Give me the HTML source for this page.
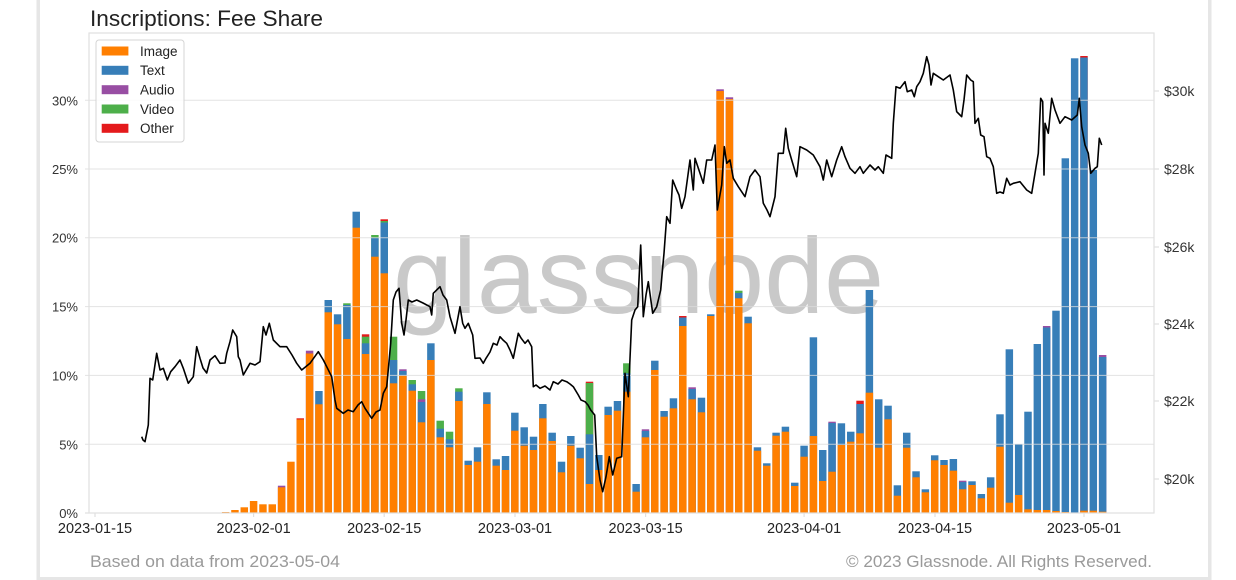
<!DOCTYPE html>
<html><head><meta charset="utf-8"><style>
html,body{margin:0;padding:0;background:#fff;}
body{width:1236px;height:580px;overflow:hidden;}
svg{display:block;font-family:"Liberation Sans",Arial,sans-serif;}
.o{fill:#ff7f00}.b{fill:#377eb8}.p{fill:#984ea3}.g{fill:#4daf4a}.r{fill:#e41a1c}
.yl{font-size:13px;fill:#333;text-anchor:end}
.yr{font-size:14px;fill:#333}
.xl{font-size:14.5px;fill:#222;text-anchor:middle}
.lg{font-size:13.5px;fill:#222}
</style></head><body>
<svg width="1236" height="580" viewBox="0 0 1236 580" xmlns="http://www.w3.org/2000/svg">
<rect x="0" y="0" width="1236" height="580" fill="#fff"/>
<!-- outer frame -->
<rect x="36.5" y="-5" width="3.5" height="586" fill="#e6e6e6"/>
<rect x="1208" y="-5" width="3.5" height="586" fill="#e6e6e6"/>
<rect x="36.5" y="577" width="1175" height="3" fill="#e6e6e6"/>

<!-- title -->
<text x="90" y="26" font-size="22.5" fill="#222" textLength="233" lengthAdjust="spacingAndGlyphs">Inscriptions: Fee Share</text>

<!-- watermark -->
<text x="393" y="313" font-size="108" fill="#c9c9c9" textLength="491" lengthAdjust="spacingAndGlyphs">glassnode</text>

<!-- bars -->
<g id="bars">
<rect class="o" x="221.89" y="512" width="7.46" height="1"/>
<rect class="o" x="231.22" y="510" width="7.46" height="3"/>
<rect class="o" x="240.55" y="507.3" width="7.46" height="5.7"/>
<rect class="o" x="249.88" y="501" width="7.46" height="12"/>
<rect class="o" x="259.21" y="504.3" width="7.46" height="8.7"/>
<rect class="o" x="268.54" y="504.3" width="7.46" height="8.7"/>
<rect class="p" x="277.87" y="485.7" width="7.46" height="27.3"/><rect class="o" x="277.87" y="487.3" width="7.46" height="25.7"/>
<rect class="o" x="287.2" y="461.7" width="7.46" height="51.3"/>
<rect class="r" x="296.53" y="418.3" width="7.46" height="94.7"/><rect class="o" x="296.53" y="419.5" width="7.46" height="93.5"/>
<rect class="p" x="305.86" y="350.7" width="7.46" height="162.3"/><rect class="o" x="305.86" y="353.5" width="7.46" height="159.5"/>
<rect class="b" x="315.19" y="391" width="7.46" height="122"/><rect class="o" x="315.19" y="404.3" width="7.46" height="108.7"/>
<rect class="b" x="324.52" y="300" width="7.46" height="213"/><rect class="o" x="324.52" y="312.3" width="7.46" height="200.7"/>
<rect class="b" x="333.85" y="314.3" width="7.46" height="198.7"/><rect class="o" x="333.85" y="324.3" width="7.46" height="188.7"/>
<rect class="g" x="343.18" y="303.3" width="7.46" height="209.7"/><rect class="b" x="343.18" y="305" width="7.46" height="208"/><rect class="o" x="343.18" y="339" width="7.46" height="174"/>
<rect class="b" x="352.51" y="211.7" width="7.46" height="301.3"/><rect class="o" x="352.51" y="227.7" width="7.46" height="285.3"/>
<rect class="r" x="361.84" y="334.3" width="7.46" height="178.7"/><rect class="g" x="361.84" y="336.7" width="7.46" height="176.3"/><rect class="b" x="361.84" y="343.3" width="7.46" height="169.7"/><rect class="o" x="361.84" y="354" width="7.46" height="159"/>
<rect class="g" x="371.17" y="235" width="7.46" height="278"/><rect class="b" x="371.17" y="237.7" width="7.46" height="275.3"/><rect class="o" x="371.17" y="256.7" width="7.46" height="256.3"/>
<rect class="r" x="380.5" y="219.3" width="7.46" height="293.7"/><rect class="g" x="380.5" y="221" width="7.46" height="292"/><rect class="b" x="380.5" y="222.5" width="7.46" height="290.5"/><rect class="o" x="380.5" y="273.3" width="7.46" height="239.7"/>
<rect class="g" x="389.83" y="336.7" width="7.46" height="176.3"/><rect class="b" x="389.83" y="360" width="7.46" height="153"/><rect class="o" x="389.83" y="383.3" width="7.46" height="129.7"/>
<rect class="p" x="399.16" y="369.3" width="7.46" height="143.7"/><rect class="b" x="399.16" y="371" width="7.46" height="142"/><rect class="o" x="399.16" y="375.7" width="7.46" height="137.3"/>
<rect class="g" x="408.49" y="380" width="7.46" height="133"/><rect class="b" x="408.49" y="384.3" width="7.46" height="128.7"/><rect class="o" x="408.49" y="390.7" width="7.46" height="122.3"/>
<rect class="g" x="417.82" y="391" width="7.46" height="122"/><rect class="p" x="417.82" y="399.3" width="7.46" height="113.7"/><rect class="b" x="417.82" y="402" width="7.46" height="111"/><rect class="o" x="417.82" y="422.3" width="7.46" height="90.7"/>
<rect class="b" x="427.15" y="343.3" width="7.46" height="169.7"/><rect class="o" x="427.15" y="360" width="7.46" height="153"/>
<rect class="g" x="436.48" y="420.7" width="7.46" height="92.3"/><rect class="b" x="436.48" y="428.7" width="7.46" height="84.3"/><rect class="o" x="436.48" y="437.3" width="7.46" height="75.7"/>
<rect class="g" x="445.81" y="431.7" width="7.46" height="81.3"/><rect class="b" x="445.81" y="439.3" width="7.46" height="73.7"/><rect class="o" x="445.81" y="447.3" width="7.46" height="65.7"/>
<rect class="g" x="455.14" y="388.3" width="7.46" height="124.7"/><rect class="b" x="455.14" y="391.7" width="7.46" height="121.3"/><rect class="o" x="455.14" y="401" width="7.46" height="112"/>
<rect class="b" x="464.47" y="460.7" width="7.46" height="52.3"/><rect class="o" x="464.47" y="465" width="7.46" height="48"/>
<rect class="b" x="473.8" y="447.3" width="7.46" height="65.7"/><rect class="o" x="473.8" y="461.7" width="7.46" height="51.3"/>
<rect class="b" x="483.13" y="392.3" width="7.46" height="120.7"/><rect class="o" x="483.13" y="404" width="7.46" height="109"/>
<rect class="b" x="492.46" y="459.3" width="7.46" height="53.7"/><rect class="o" x="492.46" y="465.7" width="7.46" height="47.3"/>
<rect class="b" x="501.79" y="456" width="7.46" height="57"/><rect class="o" x="501.79" y="470" width="7.46" height="43"/>
<rect class="b" x="511.12" y="412.7" width="7.46" height="100.3"/><rect class="o" x="511.12" y="430.7" width="7.46" height="82.3"/>
<rect class="b" x="520.45" y="427.3" width="7.46" height="85.7"/><rect class="o" x="520.45" y="445.7" width="7.46" height="67.3"/>
<rect class="b" x="529.78" y="436.7" width="7.46" height="76.3"/><rect class="o" x="529.78" y="450" width="7.46" height="63"/>
<rect class="b" x="539.11" y="404" width="7.46" height="109"/><rect class="o" x="539.11" y="418.3" width="7.46" height="94.7"/>
<rect class="b" x="548.44" y="432.7" width="7.46" height="80.3"/><rect class="o" x="548.44" y="441" width="7.46" height="72"/>
<rect class="b" x="557.77" y="461.7" width="7.46" height="51.3"/><rect class="o" x="557.77" y="472.3" width="7.46" height="40.7"/>
<rect class="b" x="567.1" y="436" width="7.46" height="77"/><rect class="o" x="567.1" y="445.7" width="7.46" height="67.3"/>
<rect class="b" x="576.43" y="447.7" width="7.46" height="65.3"/><rect class="o" x="576.43" y="458.3" width="7.46" height="54.7"/>
<rect class="r" x="585.76" y="381.7" width="7.46" height="131.3"/><rect class="g" x="585.76" y="383" width="7.46" height="130"/><rect class="b" x="585.76" y="434.3" width="7.46" height="78.7"/><rect class="o" x="585.76" y="484" width="7.46" height="29"/>
<rect class="b" x="595.09" y="455" width="7.46" height="58"/><rect class="o" x="595.09" y="470" width="7.46" height="43"/>
<rect class="b" x="604.42" y="406.7" width="7.46" height="106.3"/><rect class="o" x="604.42" y="415" width="7.46" height="98"/>
<rect class="b" x="613.75" y="401" width="7.46" height="112"/><rect class="o" x="613.75" y="410.7" width="7.46" height="102.3"/>
<rect class="g" x="623.08" y="363.3" width="7.46" height="149.7"/><rect class="b" x="623.08" y="373.3" width="7.46" height="139.7"/><rect class="o" x="623.08" y="391.7" width="7.46" height="121.3"/>
<rect class="b" x="632.41" y="484" width="7.46" height="29"/><rect class="o" x="632.41" y="491.7" width="7.46" height="21.3"/>
<rect class="p" x="641.74" y="429.3" width="7.46" height="83.7"/><rect class="b" x="641.74" y="431" width="7.46" height="82"/><rect class="o" x="641.74" y="437.3" width="7.46" height="75.7"/>
<rect class="b" x="651.07" y="360.7" width="7.46" height="152.3"/><rect class="o" x="651.07" y="370" width="7.46" height="143"/>
<rect class="b" x="660.4" y="411" width="7.46" height="102"/><rect class="o" x="660.4" y="416.7" width="7.46" height="96.3"/>
<rect class="b" x="669.73" y="398.3" width="7.46" height="114.7"/><rect class="o" x="669.73" y="408.3" width="7.46" height="104.7"/>
<rect class="r" x="679.06" y="316" width="7.46" height="197"/><rect class="b" x="679.06" y="317.5" width="7.46" height="195.5"/><rect class="o" x="679.06" y="326" width="7.46" height="187"/>
<rect class="p" x="688.39" y="387.3" width="7.46" height="125.7"/><rect class="b" x="688.39" y="389" width="7.46" height="124"/><rect class="o" x="688.39" y="399.3" width="7.46" height="113.7"/>
<rect class="b" x="697.72" y="397.7" width="7.46" height="115.3"/><rect class="o" x="697.72" y="412.3" width="7.46" height="100.7"/>
<rect class="b" x="707.05" y="314.3" width="7.46" height="198.7"/><rect class="o" x="707.05" y="316" width="7.46" height="197"/>
<rect class="p" x="716.38" y="89.3" width="7.46" height="423.7"/><rect class="o" x="716.38" y="91" width="7.46" height="422"/>
<rect class="p" x="725.71" y="97.3" width="7.46" height="415.7"/><rect class="o" x="725.71" y="99" width="7.46" height="414"/>
<rect class="g" x="735.04" y="290.7" width="7.46" height="222.3"/><rect class="b" x="735.04" y="293" width="7.46" height="220"/><rect class="o" x="735.04" y="298.3" width="7.46" height="214.7"/>
<rect class="b" x="744.37" y="316.7" width="7.46" height="196.3"/><rect class="o" x="744.37" y="323.3" width="7.46" height="189.7"/>
<rect class="b" x="753.7" y="447.3" width="7.46" height="65.7"/><rect class="o" x="753.7" y="450.7" width="7.46" height="62.3"/>
<rect class="b" x="763.03" y="463.3" width="7.46" height="49.7"/><rect class="o" x="763.03" y="465.7" width="7.46" height="47.3"/>
<rect class="b" x="772.36" y="432.7" width="7.46" height="80.3"/><rect class="o" x="772.36" y="435.7" width="7.46" height="77.3"/>
<rect class="b" x="781.69" y="426.7" width="7.46" height="86.3"/><rect class="o" x="781.69" y="431.7" width="7.46" height="81.3"/>
<rect class="b" x="791.02" y="482.7" width="7.46" height="30.3"/><rect class="o" x="791.02" y="486" width="7.46" height="27"/>
<rect class="b" x="800.35" y="445.7" width="7.46" height="67.3"/><rect class="o" x="800.35" y="456.7" width="7.46" height="56.3"/>
<rect class="b" x="809.68" y="337.3" width="7.46" height="175.7"/><rect class="o" x="809.68" y="436" width="7.46" height="77"/>
<rect class="b" x="819.01" y="450" width="7.46" height="63"/><rect class="o" x="819.01" y="481" width="7.46" height="32"/>
<rect class="p" x="828.34" y="421.7" width="7.46" height="91.3"/><rect class="b" x="828.34" y="423" width="7.46" height="90"/><rect class="o" x="828.34" y="471.7" width="7.46" height="41.3"/>
<rect class="b" x="837.67" y="423.3" width="7.46" height="89.7"/><rect class="o" x="837.67" y="445" width="7.46" height="68"/>
<rect class="b" x="847" y="431.7" width="7.46" height="81.3"/><rect class="o" x="847" y="441.7" width="7.46" height="71.3"/>
<rect class="r" x="856.33" y="400.7" width="7.46" height="112.3"/><rect class="b" x="856.33" y="404" width="7.46" height="109"/><rect class="o" x="856.33" y="433.3" width="7.46" height="79.7"/>
<rect class="b" x="865.66" y="290" width="7.46" height="223"/><rect class="o" x="865.66" y="392.7" width="7.46" height="120.3"/>
<rect class="b" x="874.99" y="399.3" width="7.46" height="113.7"/><rect class="o" x="874.99" y="447.7" width="7.46" height="65.3"/>
<rect class="b" x="884.32" y="405.7" width="7.46" height="107.3"/><rect class="o" x="884.32" y="419.3" width="7.46" height="93.7"/>
<rect class="b" x="893.65" y="485.3" width="7.46" height="27.7"/><rect class="o" x="893.65" y="495.7" width="7.46" height="17.3"/>
<rect class="b" x="902.98" y="432.7" width="7.46" height="80.3"/><rect class="o" x="902.98" y="447.7" width="7.46" height="65.3"/>
<rect class="b" x="912.31" y="471.3" width="7.46" height="41.7"/><rect class="o" x="912.31" y="477.3" width="7.46" height="35.7"/>
<rect class="b" x="921.64" y="489.3" width="7.46" height="23.7"/><rect class="o" x="921.64" y="492.3" width="7.46" height="20.7"/>
<rect class="b" x="930.97" y="455.3" width="7.46" height="57.7"/><rect class="o" x="930.97" y="460.3" width="7.46" height="52.7"/>
<rect class="b" x="940.3" y="460" width="7.46" height="53"/><rect class="o" x="940.3" y="465" width="7.46" height="48"/>
<rect class="b" x="949.63" y="459" width="7.46" height="54"/><rect class="o" x="949.63" y="470.7" width="7.46" height="42.3"/>
<rect class="p" x="958.96" y="480.7" width="7.46" height="32.3"/><rect class="b" x="958.96" y="482" width="7.46" height="31"/><rect class="o" x="958.96" y="489.3" width="7.46" height="23.7"/>
<rect class="b" x="968.29" y="481.3" width="7.46" height="31.7"/><rect class="o" x="968.29" y="485" width="7.46" height="28"/>
<rect class="b" x="977.62" y="494" width="7.46" height="19"/><rect class="o" x="977.62" y="498.3" width="7.46" height="14.7"/>
<rect class="b" x="986.95" y="477.3" width="7.46" height="35.7"/><rect class="o" x="986.95" y="487.7" width="7.46" height="25.3"/>
<rect class="b" x="996.28" y="414.3" width="7.46" height="98.7"/><rect class="o" x="996.28" y="446.7" width="7.46" height="66.3"/>
<rect class="b" x="1005.61" y="349.3" width="7.46" height="163.7"/><rect class="o" x="1005.61" y="502.7" width="7.46" height="10.3"/>
<rect class="b" x="1014.94" y="444" width="7.46" height="69"/><rect class="o" x="1014.94" y="495" width="7.46" height="18"/>
<rect class="b" x="1024.27" y="411.7" width="7.46" height="101.3"/><rect class="o" x="1024.27" y="509.3" width="7.46" height="3.7"/>
<rect class="b" x="1033.6" y="344" width="7.46" height="169"/><rect class="o" x="1033.6" y="510" width="7.46" height="3"/>
<rect class="p" x="1042.93" y="326" width="7.46" height="187"/><rect class="b" x="1042.93" y="327.5" width="7.46" height="185.5"/><rect class="o" x="1042.93" y="510" width="7.46" height="3"/>
<rect class="b" x="1052.26" y="310.7" width="7.46" height="202.3"/><rect class="o" x="1052.26" y="511" width="7.46" height="2"/>
<rect class="b" x="1061.59" y="158.3" width="7.46" height="354.7"/><rect class="o" x="1061.59" y="512" width="7.46" height="1"/>
<rect class="b" x="1070.92" y="58.3" width="7.46" height="454.7"/><rect class="o" x="1070.92" y="512.5" width="7.46" height="0.5"/>
<rect class="r" x="1080.25" y="56" width="7.46" height="457"/><rect class="b" x="1080.25" y="57.5" width="7.46" height="455.5"/><rect class="o" x="1080.25" y="510.7" width="7.46" height="2.3"/>
<rect class="b" x="1089.58" y="170" width="7.46" height="343"/><rect class="o" x="1089.58" y="510.7" width="7.46" height="2.3"/>
<rect class="p" x="1098.91" y="355" width="7.46" height="158"/><rect class="b" x="1098.91" y="357" width="7.46" height="156"/><rect class="o" x="1098.91" y="511.7" width="7.46" height="1.3"/>
</g>

<!-- gridlines (over bars) -->
<g stroke="#dcdcdc" stroke-opacity="0.8" stroke-width="1">
<line x1="85" y1="444.2" x2="1154" y2="444.2"/>
<line x1="85" y1="375.4" x2="1154" y2="375.4"/>
<line x1="85" y1="306.6" x2="1154" y2="306.6"/>
<line x1="85" y1="237.8" x2="1154" y2="237.8"/>
<line x1="85" y1="169" x2="1154" y2="169"/>
<line x1="85" y1="100.2" x2="1154" y2="100.2"/>
</g>
<!-- spines -->
<g stroke="#e0e0e0" stroke-width="1.2" fill="none">
<rect x="89" y="33" width="1065" height="480"/>
<line x1="85" y1="513" x2="89" y2="513"/>
<line x1="1154" y1="91" x2="1159" y2="91"/>
<line x1="1154" y1="169" x2="1159" y2="169"/>
<line x1="1154" y1="247" x2="1159" y2="247"/>
<line x1="1154" y1="324" x2="1159" y2="324"/>
<line x1="1154" y1="401" x2="1159" y2="401"/>
<line x1="1154" y1="479" x2="1159" y2="479"/>
<line x1="95" y1="513" x2="95" y2="517"/>
<line x1="253.6" y1="513" x2="253.6" y2="517"/>
<line x1="384.2" y1="513" x2="384.2" y2="517"/>
<line x1="515" y1="513" x2="515" y2="517"/>
<line x1="645.6" y1="513" x2="645.6" y2="517"/>
<line x1="804.1" y1="513" x2="804.1" y2="517"/>
<line x1="935" y1="513" x2="935" y2="517"/>
<line x1="1084" y1="513" x2="1084" y2="517"/>
</g>

<!-- price line -->
<polyline fill="none" stroke="#000" stroke-width="1.6" stroke-linejoin="round" points="141.7,436.7 143,440 145,441.7 148.3,425 150,378.3 152.7,380 156.7,353.3 160,370 163.3,368.3 167.3,380 170.7,371.7 175,366.7 180,360 183.3,368.3 188.3,383.3 193.3,376.7 196.7,346.7 200,358.3 203,368 206.7,373 210,360 215,355.7 220,363.3 225,363 226.7,353.3 230,341.7 232.7,330 236.7,336.7 238.3,356.7 240,360 243.3,375 250,363.3 255,365 260,361.7 263.3,326.7 266,335 269.3,323.3 273.3,340 280,346.7 286.7,346.7 292,355 296.7,363.3 301.7,370 310,363.3 318.3,351.7 323.3,360 326.7,366.7 331.7,376.7 335,400 336.7,408.3 343.3,413.3 348,410 353.3,411.7 358,405 361.7,401.7 365,408.3 371.7,418.3 376,412 380,410 383.3,393.3 386.7,386.7 390.7,343.3 393.3,300 396,292 399,288.3 401.7,323.3 404,335 406,320 408.3,300 412,302 416.7,300 423,303 430,306.7 431.7,315 433.3,293.3 440,286.7 443,295 446.7,300 450,316.7 455,333.3 460,306.7 462.7,323.3 465,328.3 468.3,323.3 472.7,335 475,358.3 480,358 483.3,363.3 486,358.3 490,352 493.3,343.3 497,345 500,336.7 503,340 506.7,343.3 510,350 513.3,358.3 518.3,333.3 521,338 525,343.3 528,340 531.7,346.7 533.3,386.7 536,385 540,388.3 545,386 550,390 553.3,381.7 558,384 562,380 566.7,381.7 570,384 573.3,386.7 578.3,395 581,400 585,401.7 588,405 590.7,410 594.7,415 596.7,456.7 600,480 602.7,491.7 606,476.7 609.3,456.7 612.7,475 616.7,458.3 621.7,456.7 625,373.3 628.3,396.7 631.7,320 635,310 637.7,306.7 640.7,245 643.3,316.7 646,295 648.3,281.7 652.7,313.3 656.7,306.7 660.7,290 662,275 664,253.3 666.7,216.7 670,223.3 672.7,180 676.7,190 679,195 681.7,208.3 685,196.7 690,160 693.3,190 695,158.3 700,173.3 703.3,183.3 706.7,160 711.7,160 715,145 717.3,210 721.7,185 724.3,146.7 726.7,163.3 730,160 733.3,178.3 738.3,186.7 745,196.7 750,176.7 755,170 760,176.7 763.3,203.3 767,210 770,216.7 775,196.7 778.3,153.3 783.3,153.3 785.7,128.3 788.3,148.3 791.7,160 796.7,176.7 800,146.7 806.7,150 813.3,155 820,166.7 823.3,180 826.7,160 831.7,176.7 836.7,160 841.7,146.7 845,156.7 850,168.3 855,173.3 860,166.7 863.3,173.3 870,165 875,170 878.3,166.7 883.3,173.3 886,155 891.7,158.3 893.3,123.3 896,86.7 900,88.3 905,81.7 907.3,91.7 911.7,90 914.3,96.7 916.7,86.7 920,81.7 923.3,73.3 926.7,56.7 929,65 931,85 933.3,73.3 938.3,76.7 943.3,80 950,75 953.3,90 956.7,111.7 960,115 961.7,116.7 964,100 966.7,75 970.7,80 973.3,81.7 975,123.3 978.3,118.3 980.7,135 984,136.7 986.7,156.7 990,158.3 993.3,166.7 996.7,193.3 1000,192 1003.3,193.3 1006.7,178.3 1010,185 1013.3,183.3 1020,181.7 1026.7,190 1031.7,193.3 1035,173.3 1038.3,153.3 1040.7,98.3 1042.7,101.7 1044,175 1045,123.3 1048.3,133.3 1051.7,98.3 1055,110 1060,123.3 1065,116.7 1071.7,120 1077.3,115 1079.3,98.3 1081.7,126.7 1085,145 1088.3,153.3 1090.7,173.3 1095,168.3 1097.3,166.7 1099.3,138.3 1101.7,145"/>

<!-- left axis labels -->
<text class="yl" x="78" y="518">0%</text>
<text class="yl" x="78" y="449.5">5%</text>
<text class="yl" x="78" y="380.5">10%</text>
<text class="yl" x="78" y="311.5">15%</text>
<text class="yl" x="78" y="242.5">20%</text>
<text class="yl" x="78" y="174">25%</text>
<text class="yl" x="78" y="105.5">30%</text>

<!-- right axis labels -->
<text class="yr" x="1164" y="96">$30k</text>
<text class="yr" x="1164" y="174">$28k</text>
<text class="yr" x="1164" y="252">$26k</text>
<text class="yr" x="1164" y="329">$24k</text>
<text class="yr" x="1164" y="406">$22k</text>
<text class="yr" x="1164" y="484">$20k</text>

<!-- x labels -->
<text class="xl" x="95" y="533">2023-01-15</text>
<text class="xl" x="253.6" y="533">2023-02-01</text>
<text class="xl" x="384.2" y="533">2023-02-15</text>
<text class="xl" x="515" y="533">2023-03-01</text>
<text class="xl" x="645.6" y="533">2023-03-15</text>
<text class="xl" x="804.1" y="533">2023-04-01</text>
<text class="xl" x="935" y="533">2023-04-15</text>
<text class="xl" x="1084" y="533">2023-05-01</text>

<!-- legend -->
<rect x="96" y="40" width="88" height="102" rx="3" fill="#fff" fill-opacity="0.85" stroke="#d4d4d4" stroke-width="1"/>
<rect class="o" x="101.7" y="46.5" width="26.7" height="9"/>
<rect class="b" x="101.7" y="65.8" width="26.7" height="9"/>
<rect class="p" x="101.7" y="85.2" width="26.7" height="9"/>
<rect class="g" x="101.7" y="104.5" width="26.7" height="9"/>
<rect class="r" x="101.7" y="123.8" width="26.7" height="9"/>
<text class="lg" x="140" y="55.8">Image</text>
<text class="lg" x="140" y="75.1">Text</text>
<text class="lg" x="140" y="94.5">Audio</text>
<text class="lg" x="140" y="113.8">Video</text>
<text class="lg" x="140" y="133.1">Other</text>

<!-- footer -->
<text x="90" y="567" font-size="17" fill="#9a9a9a" textLength="250" lengthAdjust="spacingAndGlyphs">Based on data from 2023-05-04</text>
<text x="1152" y="567" font-size="17" fill="#9a9a9a" text-anchor="end" textLength="306" lengthAdjust="spacingAndGlyphs">© 2023 Glassnode. All Rights Reserved.</text>
</svg>
</body></html>
